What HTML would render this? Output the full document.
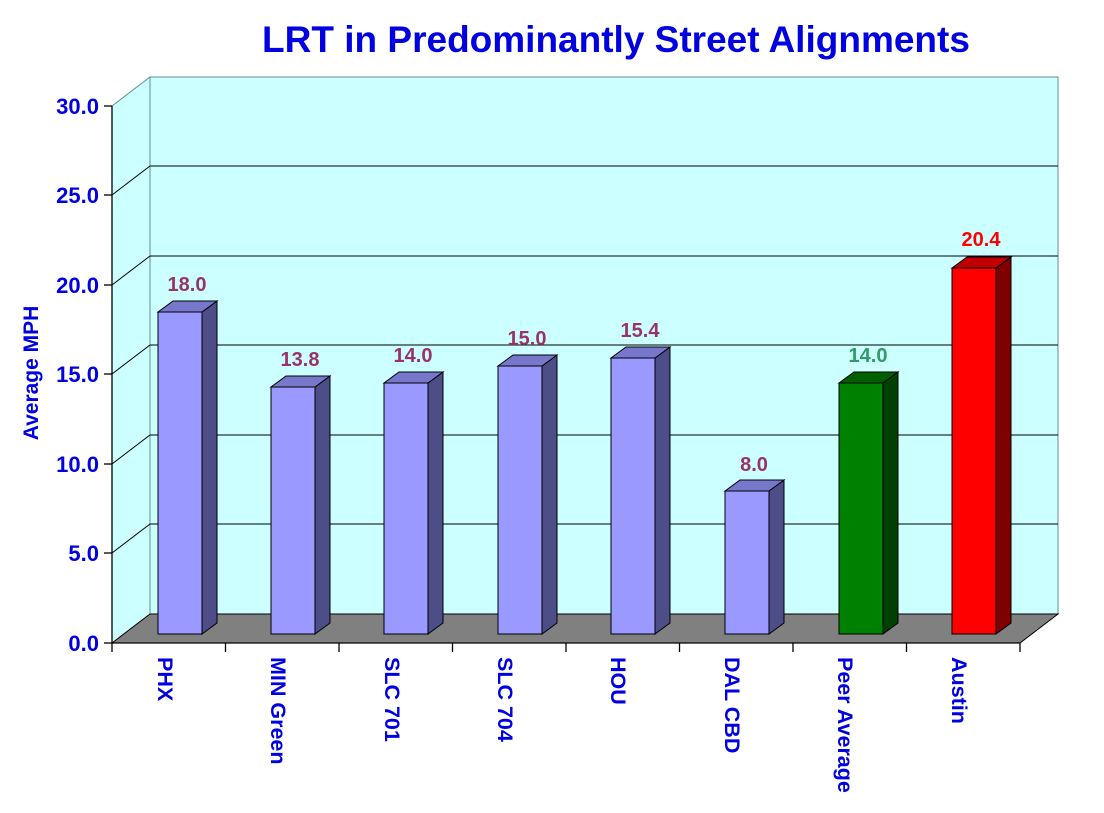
<!DOCTYPE html>
<html><head><meta charset="utf-8"><style>body{margin:0;background:#fff}svg{display:block}text{font-family:"Liberation Sans",Arial,sans-serif;font-weight:bold}</style></head>
<body>
<svg width="1104" height="813" xmlns="http://www.w3.org/2000/svg">
<text x="616" y="52" font-size="37" fill="#0000e0" text-anchor="middle">LRT in Predominantly Street Alignments</text>
<polygon points="112,106 150,77 150,614 112,643" fill="#ccffff"/>
<rect x="150" y="77" width="908" height="537" fill="#ccffff" stroke="#5f8f8f" stroke-width="1"/>
<line x1="112" y1="106" x2="150" y2="77" stroke="#5f8f8f"/>
<g stroke="#000" stroke-width="1">
<line x1="150" y1="166" x2="1058" y2="166"/><line x1="112" y1="195" x2="150" y2="166"/>
<line x1="150" y1="256" x2="1058" y2="256"/><line x1="112" y1="285" x2="150" y2="256"/>
<line x1="150" y1="345" x2="1058" y2="345"/><line x1="112" y1="374" x2="150" y2="345"/>
<line x1="150" y1="435" x2="1058" y2="435"/><line x1="112" y1="464" x2="150" y2="435"/>
<line x1="150" y1="524" x2="1058" y2="524"/><line x1="112" y1="553" x2="150" y2="524"/>
</g>
<polygon points="112,643 150,614 1058,614 1020,643" fill="#808080" stroke="#000" stroke-width="1"/>
<g stroke="#000" stroke-width="1.3">
<line x1="112" y1="106" x2="112" y2="652"/>
<line x1="112" y1="643" x2="1020" y2="643"/>
<line x1="104" y1="106" x2="112" y2="106"/><line x1="104" y1="195" x2="112" y2="195"/>
<line x1="104" y1="285" x2="112" y2="285"/><line x1="104" y1="374" x2="112" y2="374"/>
<line x1="104" y1="464" x2="112" y2="464"/><line x1="104" y1="553" x2="112" y2="553"/>
<line x1="104" y1="643" x2="112" y2="643"/>
<line x1="225.5" y1="643" x2="225.5" y2="652"/><line x1="339" y1="643" x2="339" y2="652"/>
<line x1="452.5" y1="643" x2="452.5" y2="652"/><line x1="566" y1="643" x2="566" y2="652"/>
<line x1="679.5" y1="643" x2="679.5" y2="652"/><line x1="793" y1="643" x2="793" y2="652"/>
<line x1="906.5" y1="643" x2="906.5" y2="652"/><line x1="1020" y1="643" x2="1020" y2="652"/>
</g>
<g font-size="22" fill="#0000e0" text-anchor="end">
<text x="99" y="114">30.0</text><text x="99" y="203">25.0</text><text x="99" y="293">20.0</text>
<text x="99" y="382">15.0</text><text x="99" y="472">10.0</text><text x="99" y="561">5.0</text><text x="99" y="651">0.0</text>
</g>
<text transform="translate(38,373) rotate(-90)" font-size="21" fill="#0000e0" text-anchor="middle">Average MPH</text>
<g stroke="#000" stroke-width="1">
<g fill="#9999ff"><rect x="158" y="312" width="44" height="322"/><polygon points="202,312 217,301 217,623 202,634" fill="#4d4d88"/><polygon points="158,312 173,301 217,301 202,312" fill="#7777cc"/></g>
<g fill="#9999ff"><rect x="271" y="387" width="44" height="247"/><polygon points="315,387 330,376 330,623 315,634" fill="#4d4d88"/><polygon points="271,387 286,376 330,376 315,387" fill="#7777cc"/></g>
<g fill="#9999ff"><rect x="384" y="383" width="44" height="251"/><polygon points="428,383 443,372 443,623 428,634" fill="#4d4d88"/><polygon points="384,383 399,372 443,372 428,383" fill="#7777cc"/></g>
<g fill="#9999ff"><rect x="498" y="366" width="44" height="268"/><polygon points="542,366 557,355 557,623 542,634" fill="#4d4d88"/><polygon points="498,366 513,355 557,355 542,366" fill="#7777cc"/></g>
<g fill="#9999ff"><rect x="611" y="358" width="44" height="276"/><polygon points="655,358 670,347 670,623 655,634" fill="#4d4d88"/><polygon points="611,358 626,347 670,347 655,358" fill="#7777cc"/></g>
<g fill="#9999ff"><rect x="725" y="491" width="44" height="143"/><polygon points="769,491 784,480 784,623 769,634" fill="#4d4d88"/><polygon points="725,491 740,480 784,480 769,491" fill="#7777cc"/></g>
<g fill="#008000"><rect x="839" y="383" width="44" height="251"/><polygon points="883,383 898,372 898,623 883,634" fill="#004000"/><polygon points="839,383 854,372 898,372 883,383" fill="#006000"/></g>
<g fill="#ff0000"><rect x="952" y="268" width="44" height="366"/><polygon points="996,268 1011,257 1011,623 996,634" fill="#800000"/><polygon points="952,268 967,257 1011,257 996,268" fill="#c00000"/></g>
</g>
<g font-size="20" text-anchor="middle" fill="#993366">
<text x="187" y="291">18.0</text><text x="300" y="366">13.8</text><text x="413" y="362">14.0</text>
<text x="527" y="345">15.0</text><text x="640" y="337">15.4</text><text x="754" y="471">8.0</text>
<text x="868" y="362" fill="#339966">14.0</text><text x="981" y="246" fill="#ff0000">20.4</text>
</g>
<g font-size="21.5" fill="#0000e0">
<text transform="translate(158,657) rotate(90)">PHX</text>
<text transform="translate(271,657) rotate(90)">MIN Green</text>
<text transform="translate(385,657) rotate(90)">SLC 701</text>
<text transform="translate(498,657) rotate(90)">SLC 704</text>
<text transform="translate(611,657) rotate(90)">HOU</text>
<text transform="translate(725,657) rotate(90)">DAL CBD</text>
<text transform="translate(838,657) rotate(90)">Peer Average</text>
<text transform="translate(952,657) rotate(90)">Austin</text>
</g>
</svg>
</body></html>
